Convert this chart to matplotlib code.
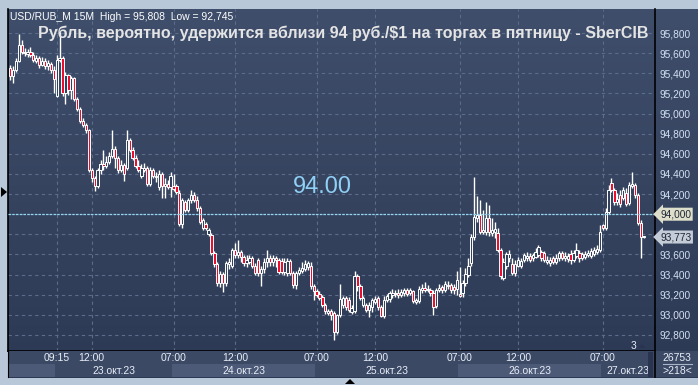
import numpy as np
import matplotlib
matplotlib.use('Agg')
import matplotlib.pyplot as plt
from matplotlib.colors import LinearSegmentedColormap
from matplotlib.patches import Polygon, Rectangle

# 15-minute candles USD/RUB_M, 20-27 Oct 2023
opens = [95.45, 95.37, 95.43, 95.52, 95.68, 95.61, 95.59, 95.61, 95.58, 95.52,
         95.55, 95.48, 95.52, 95.47, 95.49, 95.43, 95.18, 95.53, 95.55, 95.20,
         95.38, 95.23, 95.35, 95.15, 95.05, 94.93, 94.89, 94.84, 94.44, 94.36,
         94.28, 94.44, 94.50, 94.48, 94.52, 94.58, 94.65, 94.56, 94.44, 94.49,
         94.46, 94.74, 94.64, 94.56, 94.48, 94.38, 94.44, 94.46, 94.30, 94.44,
         94.38, 94.27, 94.40, 94.28, 94.30, 94.27, 94.28, 94.28, 94.21, 93.90,
         94.12, 94.04, 94.14, 94.19, 94.14, 94.06, 93.86, 93.90, 93.80, 93.79,
         93.61, 93.50, 93.32, 93.41, 93.32, 93.50, 93.49, 93.64, 93.59, 93.62,
         93.57, 93.51, 93.52, 93.56, 93.49, 93.54, 93.42, 93.46, 93.52, 93.56,
         93.52, 93.56, 93.54, 93.53, 93.43, 93.42, 93.53, 93.42, 93.30, 93.42,
         93.44, 93.46, 93.48, 93.49, 93.29, 93.24, 93.21, 93.18, 93.10, 93.02,
         93.04, 93.02, 92.83, 93.00, 93.10, 93.17, 93.15, 93.03, 93.04, 93.39,
         93.29, 93.10, 93.10, 93.05, 93.08, 93.13, 93.17, 93.08, 92.99, 93.15,
         93.16, 93.20, 93.22, 93.22, 93.20, 93.22, 93.25, 93.22, 93.24, 93.13,
         93.14, 93.25, 93.27, 93.25, 93.25, 93.22, 93.09, 93.25, 93.28, 93.25,
         93.29, 93.30, 93.28, 93.26, 93.21, 93.22, 93.32, 93.40, 93.51, 93.77,
         93.96, 93.99, 93.82, 93.82, 93.96, 93.81, 93.82, 93.81, 93.64, 93.37,
         93.49, 93.56, 93.50, 93.42, 93.49, 93.49, 93.54, 93.56, 93.58, 93.56,
         93.57, 93.59, 93.62, 93.61, 93.52, 93.51, 93.56, 93.52, 93.56, 93.61,
         93.56, 93.55, 93.60, 93.54, 93.58, 93.61, 93.56, 93.57, 93.59, 93.58,
         93.60, 93.62, 93.64, 93.89, 93.86, 94.02, 94.31, 94.24, 94.12, 94.19,
         94.16, 94.21, 94.11, 94.28, 94.29, 94.19, 93.91, 93.773]
highs = [95.48, 95.47, 95.55, 95.79, 95.73, 95.65, 95.64, 95.66, 95.61, 95.58,
         95.57, 95.56, 95.55, 95.53, 95.51, 95.47, 95.58, 95.808, 95.57, 95.41,
         95.39, 95.37, 95.36, 95.17, 95.07, 94.96, 94.91, 94.85, 94.46, 94.38,
         94.46, 94.54, 94.64, 94.58, 94.62, 94.84, 94.68, 94.58, 94.54, 94.51,
         94.84, 94.76, 94.67, 94.59, 94.54, 94.50, 94.51, 94.48, 94.47, 94.46,
         94.42, 94.44, 94.42, 94.36, 94.34, 94.42, 94.40, 94.30, 94.24, 94.16,
         94.14, 94.16, 94.24, 94.22, 94.18, 94.08, 93.96, 93.92, 93.86, 93.81,
         93.63, 93.52, 93.44, 93.43, 93.53, 93.56, 93.66, 93.71, 93.74, 93.64,
         93.59, 93.59, 93.59, 93.58, 93.51, 93.56, 93.49, 93.56, 93.64, 93.59,
         93.59, 93.58, 93.56, 93.56, 93.56, 93.56, 93.55, 93.44, 93.44, 93.48,
         93.52, 93.54, 93.53, 93.52, 93.31, 93.26, 93.24, 93.20, 93.12, 93.06,
         93.06, 93.04, 93.01, 93.31, 93.19, 93.19, 93.18, 93.10, 93.44, 93.41,
         93.31, 93.19, 93.12, 93.13, 93.17, 93.19, 93.19, 93.10, 93.19, 93.21,
         93.24, 93.26, 93.25, 93.26, 93.26, 93.27, 93.27, 93.27, 93.25, 93.17,
         93.29, 93.31, 93.33, 93.30, 93.27, 93.25, 93.27, 93.31, 93.30, 93.34,
         93.34, 93.32, 93.31, 93.44, 93.48, 93.35, 93.47, 93.56, 93.80, 94.37,
         94.18, 94.14, 94.04, 94.12, 94.09, 93.96, 93.92, 93.86, 93.66, 93.56,
         93.62, 93.64, 93.56, 93.54, 93.57, 93.56, 93.61, 93.62, 93.61, 93.61,
         93.66, 93.69, 93.64, 93.63, 93.58, 93.57, 93.58, 93.60, 93.63, 93.63,
         93.62, 93.61, 93.64, 93.64, 93.71, 93.64, 93.62, 93.63, 93.64, 93.66,
         93.67, 93.69, 93.89, 93.90, 94.06, 94.29, 94.36, 94.26, 94.21, 94.24,
         94.27, 94.26, 94.32, 94.42, 94.31, 94.21, 93.94, 93.78]
lows = [95.33, 95.30, 95.41, 95.51, 95.59, 95.57, 95.56, 95.56, 95.51, 95.50,
        95.45, 95.47, 95.44, 95.43, 95.40, 95.20, 95.17, 95.51, 95.18, 95.10,
        95.19, 95.15, 95.13, 95.03, 94.91, 94.87, 94.81, 94.42, 94.32, 94.23,
        94.26, 94.40, 94.44, 94.46, 94.50, 94.56, 94.46, 94.41, 94.42, 94.33,
        94.44, 94.62, 94.54, 94.46, 94.42, 94.36, 94.42, 94.28, 94.28, 94.36,
        94.32, 94.24, 94.16, 94.16, 94.25, 94.17, 94.23, 94.20, 93.88, 93.86,
        94.02, 94.02, 94.11, 94.12, 94.03, 93.90, 93.84, 93.84, 93.78, 93.59,
        93.48, 93.29, 93.28, 93.23, 93.29, 93.46, 93.47, 93.56, 93.56, 93.52,
        93.49, 93.48, 93.50, 93.47, 93.40, 93.39, 93.29, 93.42, 93.48, 93.49,
        93.49, 93.48, 93.41, 93.41, 93.40, 93.39, 93.40, 93.27, 93.26, 93.40,
        93.42, 93.44, 93.45, 93.26, 93.15, 93.18, 93.15, 93.08, 93.01, 93.00,
        92.95, 92.745, 92.81, 92.98, 93.07, 93.05, 93.03, 93.01, 93.02, 93.24,
        93.15, 93.08, 93.03, 92.98, 93.03, 93.11, 93.05, 92.98, 92.97, 93.13,
        93.13, 93.17, 93.18, 93.17, 93.18, 93.19, 93.19, 93.20, 93.12, 93.11,
        93.12, 93.22, 93.23, 93.23, 93.19, 93.00, 93.07, 93.23, 93.22, 93.23,
        93.26, 93.22, 93.21, 93.20, 93.18, 93.18, 93.29, 93.38, 93.49, 93.74,
        93.92, 93.80, 93.80, 93.79, 93.78, 93.78, 93.76, 93.62, 93.36, 93.35,
        93.46, 93.52, 93.40, 93.39, 93.48, 93.47, 93.52, 93.53, 93.52, 93.53,
        93.56, 93.57, 93.53, 93.52, 93.50, 93.49, 93.50, 93.50, 93.53, 93.54,
        93.53, 93.52, 93.50, 93.52, 93.56, 93.52, 93.54, 93.55, 93.57, 93.56,
        93.58, 93.60, 93.62, 93.84, 93.84, 94.00, 94.22, 94.09, 94.09, 94.07,
        94.14, 94.08, 94.09, 94.26, 94.16, 93.89, 93.56, 93.76]
closes = [95.37, 95.43, 95.52, 95.68, 95.61, 95.60, 95.61, 95.58, 95.53, 95.55,
          95.48, 95.52, 95.47, 95.50, 95.43, 95.34, 95.53, 95.55, 95.20, 95.38,
          95.23, 95.35, 95.15, 95.05, 94.93, 94.89, 94.84, 94.44, 94.36, 94.28,
          94.44, 94.50, 94.48, 94.52, 94.58, 94.65, 94.56, 94.44, 94.49, 94.40,
          94.74, 94.64, 94.56, 94.48, 94.44, 94.46, 94.46, 94.30, 94.44, 94.38,
          94.37, 94.40, 94.28, 94.30, 94.27, 94.38, 94.25, 94.22, 93.90, 94.14,
          94.04, 94.14, 94.19, 94.14, 94.06, 93.92, 93.94, 93.86, 93.84, 93.61,
          93.50, 93.32, 93.41, 93.32, 93.51, 93.52, 93.64, 93.59, 93.62, 93.57,
          93.51, 93.54, 93.56, 93.49, 93.42, 93.42, 93.46, 93.52, 93.56, 93.52,
          93.56, 93.54, 93.43, 93.43, 93.52, 93.53, 93.42, 93.30, 93.42, 93.45,
          93.47, 93.50, 93.51, 93.29, 93.24, 93.20, 93.17, 93.10, 93.04, 93.04,
          93.00, 92.83, 93.00, 93.16, 93.17, 93.08, 93.05, 93.07, 93.39, 93.29,
          93.17, 93.17, 93.05, 93.10, 93.15, 93.16, 93.08, 92.99, 93.15, 93.19,
          93.22, 93.22, 93.21, 93.20, 93.23, 93.25, 93.21, 93.25, 93.14, 93.15,
          93.26, 93.27, 93.25, 93.26, 93.22, 93.08, 93.25, 93.27, 93.25, 93.31,
          93.30, 93.25, 93.25, 93.35, 93.19, 93.32, 93.41, 93.49, 93.77, 93.97,
          93.99, 93.82, 93.84, 93.96, 93.82, 93.84, 93.85, 93.64, 93.39, 93.52,
          93.60, 93.60, 93.42, 93.50, 93.54, 93.53, 93.59, 93.58, 93.54, 93.59,
          93.62, 93.67, 93.56, 93.54, 93.54, 93.54, 93.52, 93.56, 93.61, 93.56,
          93.58, 93.58, 93.54, 93.61, 93.64, 93.56, 93.60, 93.60, 93.61, 93.63,
          93.64, 93.65, 93.82, 93.86, 94.02, 94.24, 94.24, 94.12, 94.15, 94.10,
          94.24, 94.10, 94.29, 94.30, 94.19, 93.91, 93.773, 93.773]

time_ticks = [16, 28, 56, 77, 105, 125, 154, 174, 203]
time_labels = ['09:15', '12:00', '07:00', '12:00', '07:00', '12:00', '07:00', '12:00', '07:00']
day_edges = [-0.7, 15.5, 55.5, 104.5, 153.5, 202.5, 221]
day_labels = ['', '23.окт.23', '24.окт.23', '25.окт.23', '26.окт.23', '27.окт.23']
price_ticks = [92.8, 93.0, 93.2, 93.4, 93.6, 93.8, 94.0, 94.2, 94.4, 94.6, 94.8, 95.0, 95.2, 95.4, 95.6, 95.8]
target_level = 94.0
last_price = 93.773

W, H = 698, 385
FONT = 'Liberation Sans'


def rect(x0, y0, x1, y1):
    return [x0 / W, 1 - y1 / H, (x1 - x0) / W, (y1 - y0) / H]


fig = plt.figure(figsize=(W / 100, H / 100), dpi=100, facecolor='#b9c8d8')

# gradient panel background
bg = fig.add_axes(rect(8, 9, 698, 378))
cmap = LinearSegmentedColormap.from_list('panel', ['#3f4e6b', '#2c3954'])
bg.imshow(np.linspace(0, 1, 256).reshape(-1, 1), aspect='auto', cmap=cmap, extent=[0, 1, 0, 1])
bg.axis('off')

ax = fig.add_axes(rect(8, 9, 655, 351))
ax.set_facecolor('none')
n = len(closes)
x = np.arange(n)
o = np.array(opens)
c = np.array(closes)
ax.set_xlim(-0.68, 220.9)
ax.set_ylim(92.64, 96.04)

ax.set_yticks(price_ticks)
ax.set_xticks(time_ticks)
ax.grid(True, color='#5c6c8a', ls=(0, (3, 3)), lw=0.8)
ax.set_axisbelow(True)
ax.xaxis.set_ticklabels([])
ax.tick_params(axis='x', length=0)
ax.yaxis.tick_right()
ax.tick_params(axis='y', length=0, pad=3, labelsize=7.3, labelcolor='#d4e0f2')
# labels under the two price markers are hidden by them
ax.set_yticklabels(['' if v in (93.8, 94.0) else f'{v:.3f}'.replace('.', ',') for v in price_ticks],
                   family=FONT)
ax.spines['top'].set_visible(False)
for s in ['left', 'right', 'bottom']:
    ax.spines[s].set_color('black')
    ax.spines[s].set_linewidth(1.2)

down = c < o
ax.vlines(x, lows, highs, color='white', lw=1.0, zorder=2)
ax.bar(x, np.maximum(np.abs(c - o), 0.008), bottom=np.minimum(o, c), width=0.78,
       color=np.where(down, '#e8102e', '#34425e'), edgecolor='white', lw=0.7, zorder=3)

ax.axhline(target_level, color='#93d6ee', ls=(0, (2, 1)), lw=0.9, zorder=4)
ax.text(107, 94.27, '94.00', color='#8fd0f5', fontsize=17, family=FONT,
        ha='center', va='center', zorder=5)

# price markers on the right scale
ax.text(1.008, target_level, '94,000', transform=ax.get_yaxis_transform(), fontsize=7.3,
        family=FONT, color='#1e2636', va='center', ha='left', zorder=6, clip_on=False,
        bbox=dict(boxstyle='larrow,pad=0.15', fc='#dedfcb', ec='none'))
ax.text(1.008, last_price, '93,773', transform=ax.get_yaxis_transform(), fontsize=7.3,
        family=FONT, color='#1e2636', va='center', ha='left', zorder=6, clip_on=False,
        bbox=dict(boxstyle='larrow,pad=0.15', fc='#c4ccd8', ec='none'))

# time axis strip
axt = fig.add_axes(rect(8, 351, 655, 377))
axt.set_facecolor('#3b4965')
axt.set_xlim(ax.get_xlim())
axt.set_ylim(0, 2)
for k in range(len(day_labels)):
    if k % 2 == 0:
        axt.axvspan(day_edges[k], day_edges[k + 1], ymin=0, ymax=0.5, color='#4c5a77', lw=0)
    if day_labels[k]:
        axt.text((day_edges[k] + day_edges[k + 1]) / 2, 0.5, day_labels[k], ha='center',
                 va='center', fontsize=7.5, family=FONT, color='#e8eef8', clip_on=True)
for t, lab in zip(time_ticks, time_labels):
    axt.text(t, 1.45, lab, ha='center', va='center', fontsize=7.5, family=FONT, color='#e8eef8')
axt.set_xticks([])
axt.set_yticks([])
for s in axt.spines.values():
    s.set_visible(False)
axt.spines['left'].set_visible(True)
axt.spines['left'].set_color('black')

# pixel overlay for frame decorations
ov = fig.add_axes([0, 0, 1, 1], zorder=10)
ov.set_xlim(0, W)
ov.set_ylim(H, 0)
ov.axis('off')
ov.add_patch(Rectangle((655, 351), 43, 26, fc='#3b4965', ec='none'))
ov.add_patch(Rectangle((648, 352), 5, 25, fc='#2a3450', ec='none'))
ov.plot([655, 655], [351, 377], color='black', lw=1.2)
ov.plot([663, 692], [364, 364], color='#aab6c8', lw=0.8)
ov.text(677, 358, '26753', ha='center', va='center', fontsize=7.5, family=FONT, color='#e8eef8')
ov.text(677, 371, '>218<', ha='center', va='center', fontsize=7.5, family=FONT, color='#e8eef8')
ov.add_patch(Polygon([(1, 187), (1, 197), (7, 192)], closed=True, fc='black'))
ov.add_patch(Polygon([(345, 384), (355, 384), (350, 379)], closed=True, fc='black'))
ov.add_patch(Polygon([(638, 348), (646, 348), (642, 344)], closed=True, fc='#2a3450'))
ov.text(633, 346, '3', ha='center', va='center', fontsize=7.3, family=FONT, color='#e8eef8')
ov.text(10, 17, 'USD/RUB_M 15M  High = 95,808  Low = 92,745', ha='left', va='center',
        fontsize=7.5, family=FONT, color='white')
ov.text(343, 33, 'Рубль, вероятно, удержится вблизи 94 руб./$1 на торгах в пятницу - SberCIB',
        ha='center', va='center', fontsize=11.5, family=FONT, fontweight='bold', color='#e4e4e4')

fig.savefig('out.png', dpi=100, facecolor=fig.get_facecolor())
